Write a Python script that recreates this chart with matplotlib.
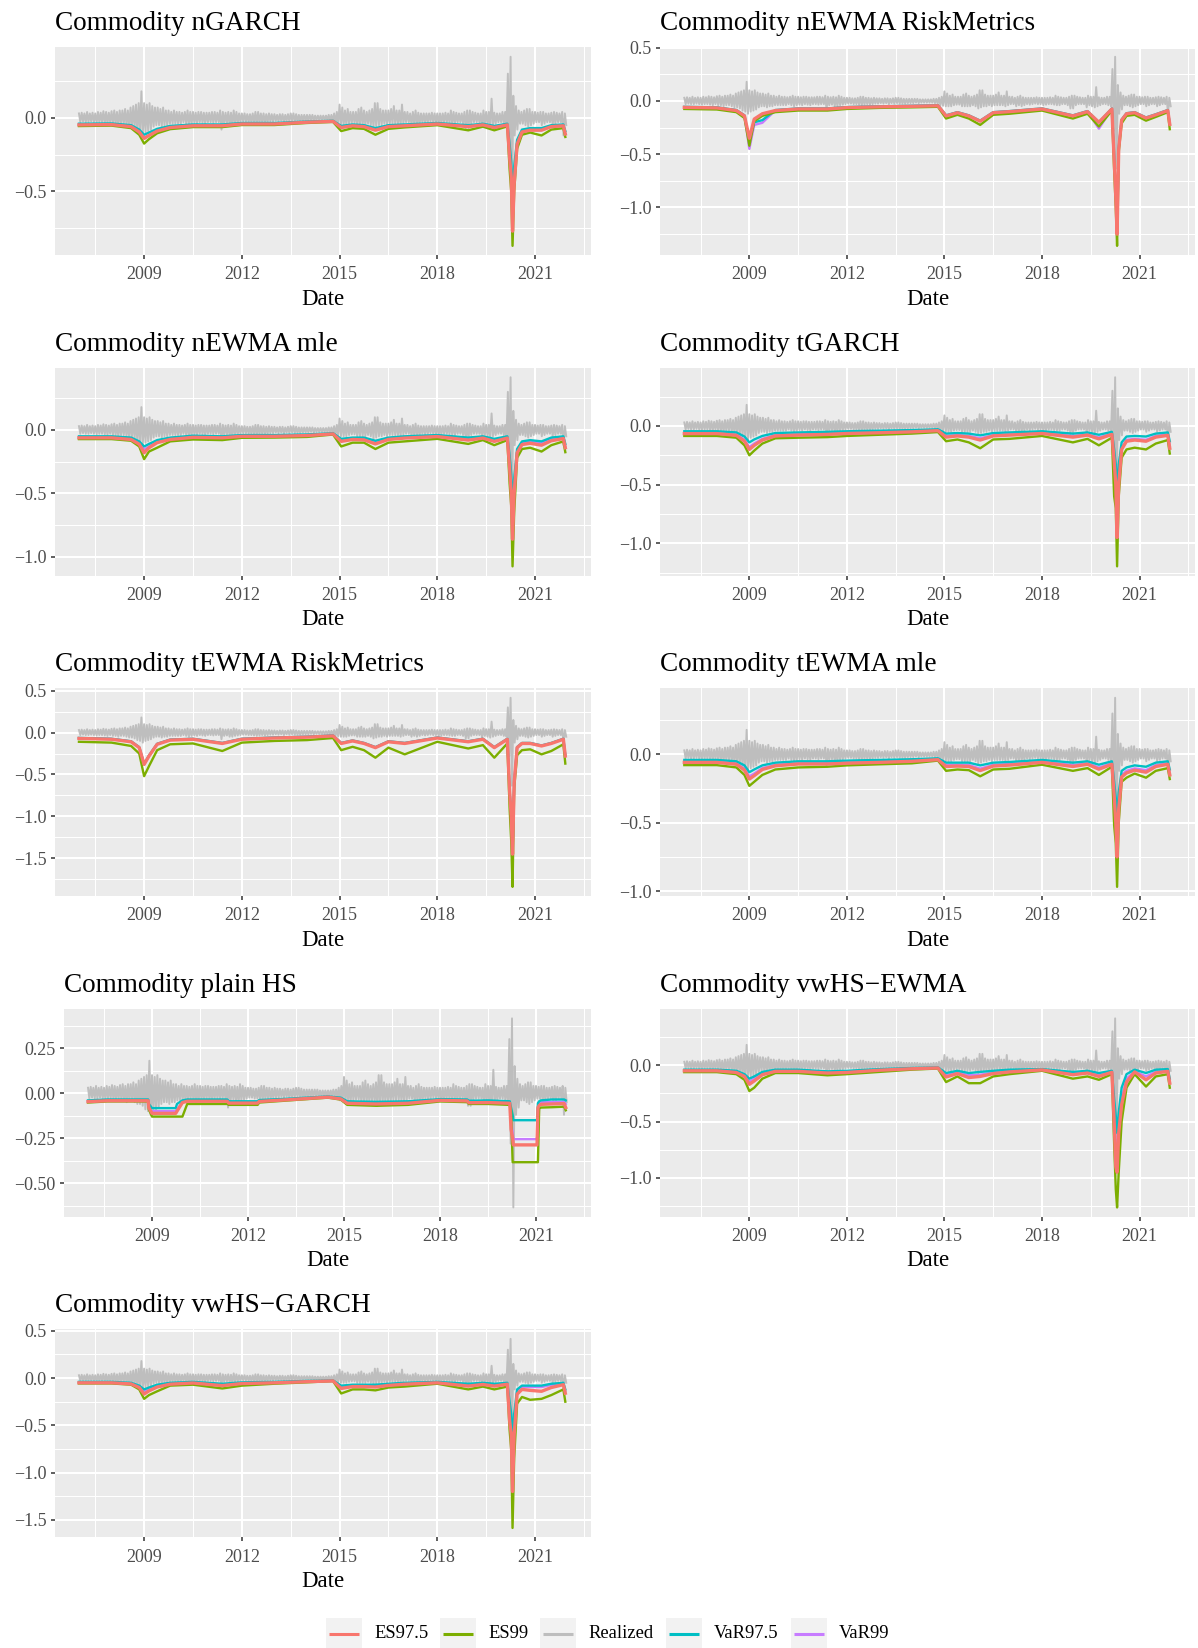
import numpy as np
import matplotlib
matplotlib.use("Agg")
import matplotlib.pyplot as plt
from matplotlib.ticker import MultipleLocator, FixedLocator, FuncFormatter
from matplotlib.patches import Rectangle

plt.rcParams['font.family'] = ['Liberation Serif', 'DejaVu Serif']

# realized commodity returns: monthly high and low, Jan 2007 .. Dec 2021
realized_hi = [
    0.030, 0.035, 0.030, 0.040, 0.030, 0.035, 0.030, 0.040, 0.035, 0.045, 0.040, 0.035,  # 2007
    0.045, 0.050, 0.040, 0.050, 0.050, 0.060, 0.050, 0.070, 0.080, 0.090, 0.100, 0.180,  # 2008
    0.100, 0.090, 0.100, 0.080, 0.070, 0.070, 0.060, 0.070, 0.050, 0.050, 0.040, 0.050,  # 2009
    0.040, 0.040, 0.035, 0.040, 0.050, 0.040, 0.040, 0.035, 0.040, 0.040, 0.035, 0.035,  # 2010
    0.035, 0.040, 0.040, 0.035, 0.050, 0.040, 0.035, 0.040, 0.035, 0.050, 0.040, 0.030,  # 2011
    0.030, 0.030, 0.025, 0.025, 0.030, 0.040, 0.040, 0.030, 0.030, 0.025, 0.030, 0.025,  # 2012
    0.025, 0.020, 0.025, 0.025, 0.020, 0.025, 0.030, 0.030, 0.025, 0.020, 0.020, 0.020,  # 2013
    0.020, 0.020, 0.020, 0.015, 0.015, 0.015, 0.015, 0.015, 0.020, 0.020, 0.030, 0.040,  # 2014
    0.090, 0.070, 0.050, 0.060, 0.040, 0.040, 0.040, 0.060, 0.070, 0.050, 0.040, 0.050,  # 2015
    0.060, 0.100, 0.100, 0.060, 0.050, 0.050, 0.050, 0.060, 0.080, 0.050, 0.050, 0.090,  # 2016
    0.040, 0.040, 0.030, 0.040, 0.050, 0.035, 0.030, 0.030, 0.030, 0.030, 0.035, 0.030,  # 2017
    0.030, 0.030, 0.030, 0.035, 0.030, 0.050, 0.040, 0.035, 0.030, 0.030, 0.040, 0.050,  # 2018
    0.050, 0.040, 0.035, 0.030, 0.030, 0.050, 0.040, 0.040, 0.130, 0.035, 0.030, 0.030,  # 2019
    0.040, 0.040, 0.300, 0.415, 0.150, 0.080, 0.050, 0.040, 0.050, 0.060, 0.060, 0.040,  # 2020
    0.040, 0.035, 0.040, 0.040, 0.030, 0.030, 0.035, 0.040, 0.035, 0.030, 0.040, 0.030,  # 2021
]
realized_lo = [
    -0.030, -0.025, -0.030, -0.030, -0.025, -0.030, -0.035, -0.030, -0.030, -0.035, -0.040, -0.030,  # 2007
    -0.040, -0.040, -0.050, -0.040, -0.040, -0.050, -0.060, -0.060, -0.070, -0.090, -0.100, -0.120,  # 2008
    -0.100, -0.090, -0.080, -0.060, -0.050, -0.050, -0.060, -0.050, -0.050, -0.040, -0.040, -0.040,  # 2009
    -0.040, -0.040, -0.030, -0.040, -0.050, -0.040, -0.035, -0.040, -0.030, -0.035, -0.040, -0.030,  # 2010
    -0.030, -0.035, -0.030, -0.030, -0.080, -0.040, -0.035, -0.050, -0.050, -0.040, -0.035, -0.030,  # 2011
    -0.025, -0.025, -0.030, -0.030, -0.035, -0.040, -0.035, -0.030, -0.035, -0.030, -0.025, -0.025,  # 2012
    -0.020, -0.025, -0.020, -0.030, -0.020, -0.025, -0.020, -0.025, -0.025, -0.025, -0.020, -0.020,  # 2013
    -0.020, -0.015, -0.020, -0.015, -0.015, -0.015, -0.015, -0.015, -0.020, -0.025, -0.040, -0.045,  # 2014
    -0.050, -0.050, -0.050, -0.040, -0.035, -0.035, -0.050, -0.050, -0.050, -0.050, -0.040, -0.050,  # 2015
    -0.070, -0.060, -0.050, -0.050, -0.040, -0.050, -0.040, -0.040, -0.040, -0.040, -0.050, -0.040,  # 2016
    -0.030, -0.030, -0.050, -0.040, -0.050, -0.040, -0.030, -0.035, -0.030, -0.025, -0.030, -0.030,  # 2017
    -0.040, -0.035, -0.030, -0.030, -0.035, -0.040, -0.040, -0.030, -0.030, -0.040, -0.070, -0.070,  # 2018
    -0.040, -0.030, -0.030, -0.030, -0.060, -0.040, -0.050, -0.060, -0.050, -0.040, -0.030, -0.030,  # 2019
    -0.040, -0.050, -0.280, -0.634, -0.120, -0.080, -0.040, -0.040, -0.050, -0.060, -0.050, -0.040,  # 2020
    -0.030, -0.030, -0.050, -0.040, -0.030, -0.030, -0.050, -0.040, -0.030, -0.030, -0.120, -0.050,  # 2021
]

# dates (decimal years) at which the model forecasts are tabulated
knots = [
    2007.0, 2008.0, 2008.6, 2008.85, 2009.0, 2009.15, 2009.4, 2009.8, 2010.5, 2011.4,
    2012.0, 2013.0, 2014.0, 2014.8, 2015.05, 2015.4, 2015.75, 2016.1, 2016.5, 2017.0,
    2018.0, 2018.95, 2019.4, 2019.75, 2020.15, 2020.22, 2020.27, 2020.31, 2020.36, 2020.45,
    2020.6, 2020.85, 2021.2, 2021.5, 2021.87, 2021.93,
]

# nGARCH
ngarch_var975 = [
    -0.040, -0.038, -0.050, -0.080, -0.115, -0.100, -0.075, -0.055, -0.045, -0.045,
    -0.035, -0.035, -0.025, -0.020, -0.055, -0.045, -0.050, -0.070, -0.050, -0.045,
    -0.035, -0.050, -0.040, -0.055, -0.040, -0.180, -0.300, -0.560, -0.330, -0.150,
    -0.080, -0.070, -0.070, -0.050, -0.045, -0.090]
ngarch_var99 = [
    -0.047, -0.045, -0.059, -0.095, -0.136, -0.118, -0.089, -0.065, -0.053, -0.053,
    -0.041, -0.041, -0.030, -0.024, -0.065, -0.053, -0.059, -0.083, -0.059, -0.053,
    -0.041, -0.059, -0.047, -0.065, -0.047, -0.212, -0.354, -0.660, -0.390, -0.177,
    -0.094, -0.083, -0.083, -0.059, -0.053, -0.106]
ngarch_es975 = [
    -0.048, -0.046, -0.060, -0.096, -0.140, -0.120, -0.090, -0.066, -0.054, -0.054,
    -0.042, -0.042, -0.030, -0.024, -0.066, -0.054, -0.060, -0.084, -0.060, -0.054,
    -0.042, -0.060, -0.048, -0.066, -0.048, -0.270, -0.400, -0.770, -0.450, -0.180,
    -0.096, -0.084, -0.084, -0.060, -0.054, -0.110]
ngarch_es99 = [
    -0.056, -0.053, -0.070, -0.115, -0.175, -0.145, -0.105, -0.077, -0.063, -0.063,
    -0.049, -0.049, -0.035, -0.028, -0.090, -0.070, -0.075, -0.115, -0.075, -0.065,
    -0.050, -0.085, -0.060, -0.085, -0.058, -0.350, -0.500, -0.870, -0.500, -0.210,
    -0.115, -0.100, -0.120, -0.080, -0.070, -0.130]

# nEWMA RiskMetrics
newma_rm_var975 = [
    -0.055, -0.060, -0.085, -0.135, -0.380, -0.200, -0.180, -0.085, -0.070, -0.070,
    -0.057, -0.050, -0.045, -0.040, -0.135, -0.105, -0.135, -0.185, -0.105, -0.095,
    -0.070, -0.135, -0.095, -0.200, -0.070, -0.500, -0.850, -1.200, -0.440, -0.175,
    -0.115, -0.105, -0.155, -0.125, -0.085, -0.215]
newma_rm_var99 = [
    -0.058, -0.063, -0.088, -0.138, -0.450, -0.225, -0.205, -0.088, -0.073, -0.073,
    -0.060, -0.053, -0.048, -0.043, -0.138, -0.108, -0.138, -0.188, -0.108, -0.098,
    -0.073, -0.138, -0.098, -0.260, -0.073, -0.540, -0.890, -1.240, -0.445, -0.178,
    -0.118, -0.108, -0.158, -0.128, -0.088, -0.218]
newma_rm_es975 = [
    -0.060, -0.065, -0.090, -0.140, -0.350, -0.170, -0.120, -0.090, -0.075, -0.075,
    -0.062, -0.055, -0.050, -0.045, -0.140, -0.110, -0.140, -0.190, -0.110, -0.100,
    -0.075, -0.140, -0.100, -0.200, -0.075, -0.550, -0.900, -1.250, -0.450, -0.180,
    -0.120, -0.110, -0.160, -0.130, -0.090, -0.220]
newma_rm_es99 = [
    -0.075, -0.080, -0.105, -0.160, -0.420, -0.190, -0.140, -0.105, -0.090, -0.090,
    -0.075, -0.065, -0.060, -0.055, -0.165, -0.130, -0.165, -0.225, -0.130, -0.120,
    -0.090, -0.165, -0.120, -0.240, -0.090, -0.650, -1.000, -1.360, -0.480, -0.210,
    -0.140, -0.130, -0.185, -0.150, -0.105, -0.265]

# nEWMA mle
newma_mle_var975 = [
    -0.050, -0.050, -0.060, -0.090, -0.130, -0.110, -0.080, -0.060, -0.045, -0.050,
    -0.040, -0.040, -0.035, -0.025, -0.070, -0.060, -0.060, -0.085, -0.060, -0.050,
    -0.040, -0.060, -0.050, -0.070, -0.050, -0.200, -0.350, -0.600, -0.380, -0.150,
    -0.090, -0.080, -0.090, -0.060, -0.050, -0.110]
newma_mle_var99 = [
    -0.059, -0.059, -0.071, -0.106, -0.153, -0.130, -0.094, -0.071, -0.053, -0.059,
    -0.047, -0.047, -0.041, -0.030, -0.083, -0.071, -0.071, -0.100, -0.071, -0.059,
    -0.047, -0.071, -0.059, -0.083, -0.059, -0.236, -0.410, -0.710, -0.450, -0.177,
    -0.106, -0.094, -0.106, -0.071, -0.059, -0.130]
newma_mle_es975 = [
    -0.062, -0.062, -0.075, -0.112, -0.180, -0.140, -0.100, -0.075, -0.058, -0.062,
    -0.050, -0.050, -0.044, -0.031, -0.090, -0.075, -0.078, -0.110, -0.075, -0.064,
    -0.052, -0.080, -0.064, -0.090, -0.064, -0.300, -0.500, -0.860, -0.500, -0.180,
    -0.115, -0.105, -0.120, -0.085, -0.068, -0.140]
newma_mle_es99 = [
    -0.072, -0.072, -0.085, -0.130, -0.230, -0.170, -0.140, -0.090, -0.075, -0.080,
    -0.062, -0.060, -0.055, -0.036, -0.130, -0.100, -0.100, -0.150, -0.100, -0.090,
    -0.070, -0.110, -0.080, -0.120, -0.080, -0.420, -0.600, -1.074, -0.650, -0.220,
    -0.150, -0.140, -0.170, -0.120, -0.090, -0.175]

# tGARCH
tgarch_var975 = [
    -0.045, -0.045, -0.055, -0.090, -0.140, -0.115, -0.085, -0.060, -0.055, -0.050,
    -0.045, -0.040, -0.035, -0.028, -0.065, -0.060, -0.065, -0.080, -0.060, -0.055,
    -0.045, -0.065, -0.055, -0.075, -0.050, -0.200, -0.330, -0.550, -0.330, -0.140,
    -0.090, -0.085, -0.090, -0.065, -0.055, -0.130]
tgarch_var99 = [
    -0.060, -0.060, -0.073, -0.118, -0.180, -0.150, -0.110, -0.078, -0.072, -0.066,
    -0.059, -0.053, -0.046, -0.037, -0.085, -0.078, -0.085, -0.105, -0.078, -0.072,
    -0.059, -0.085, -0.072, -0.098, -0.066, -0.270, -0.450, -0.760, -0.440, -0.185,
    -0.118, -0.110, -0.118, -0.085, -0.072, -0.170]
tgarch_es975 = [
    -0.065, -0.065, -0.080, -0.130, -0.200, -0.165, -0.120, -0.085, -0.078, -0.072,
    -0.064, -0.058, -0.050, -0.040, -0.095, -0.085, -0.095, -0.120, -0.085, -0.078,
    -0.064, -0.095, -0.078, -0.110, -0.072, -0.300, -0.500, -0.950, -0.500, -0.200,
    -0.130, -0.120, -0.130, -0.095, -0.080, -0.190]
tgarch_es99 = [
    -0.085, -0.085, -0.100, -0.165, -0.250, -0.210, -0.150, -0.105, -0.100, -0.095,
    -0.085, -0.075, -0.065, -0.052, -0.130, -0.115, -0.140, -0.190, -0.115, -0.110,
    -0.085, -0.140, -0.110, -0.165, -0.100, -0.600, -0.700, -1.196, -0.600, -0.270,
    -0.200, -0.185, -0.200, -0.150, -0.120, -0.235]

# tEWMA RiskMetrics
tewma_rm_var975 = [
    -0.064, -0.074, -0.104, -0.174, -0.374, -0.274, -0.134, -0.084, -0.074, -0.124,
    -0.074, -0.059, -0.049, -0.034, -0.124, -0.094, -0.124, -0.174, -0.104, -0.124,
    -0.059, -0.104, -0.074, -0.174, -0.074, -0.690, -0.990, -1.440, -0.590, -0.174,
    -0.124, -0.124, -0.154, -0.124, -0.074, -0.274]
tewma_rm_var99 = [
    -0.067, -0.077, -0.107, -0.177, -0.377, -0.277, -0.137, -0.087, -0.077, -0.127,
    -0.077, -0.062, -0.052, -0.037, -0.127, -0.097, -0.127, -0.177, -0.107, -0.127,
    -0.062, -0.107, -0.077, -0.177, -0.077, -0.695, -0.995, -1.445, -0.595, -0.177,
    -0.127, -0.127, -0.157, -0.127, -0.077, -0.277]
tewma_rm_es975 = [
    -0.070, -0.080, -0.110, -0.180, -0.380, -0.280, -0.140, -0.090, -0.080, -0.130,
    -0.080, -0.065, -0.055, -0.040, -0.130, -0.100, -0.130, -0.180, -0.110, -0.130,
    -0.065, -0.110, -0.080, -0.180, -0.080, -0.700, -1.000, -1.450, -0.600, -0.180,
    -0.130, -0.130, -0.160, -0.130, -0.080, -0.280]
tewma_rm_es99 = [
    -0.110, -0.120, -0.160, -0.250, -0.520, -0.400, -0.210, -0.140, -0.130, -0.220,
    -0.120, -0.100, -0.090, -0.065, -0.210, -0.170, -0.210, -0.300, -0.180, -0.260,
    -0.110, -0.190, -0.150, -0.300, -0.130, -0.900, -1.300, -1.840, -0.660, -0.270,
    -0.210, -0.200, -0.260, -0.220, -0.140, -0.370]

# tEWMA mle
tewma_mle_var975 = [
    -0.040, -0.040, -0.050, -0.080, -0.130, -0.110, -0.080, -0.060, -0.050, -0.050,
    -0.045, -0.040, -0.035, -0.028, -0.060, -0.060, -0.060, -0.080, -0.060, -0.055,
    -0.040, -0.060, -0.050, -0.075, -0.050, -0.200, -0.320, -0.480, -0.280, -0.120,
    -0.095, -0.080, -0.090, -0.060, -0.050, -0.110]
tewma_mle_var99 = [
    -0.052, -0.052, -0.065, -0.104, -0.160, -0.140, -0.100, -0.076, -0.064, -0.064,
    -0.058, -0.052, -0.045, -0.035, -0.078, -0.076, -0.078, -0.104, -0.076, -0.070,
    -0.052, -0.078, -0.064, -0.096, -0.064, -0.260, -0.420, -0.620, -0.360, -0.150,
    -0.120, -0.102, -0.115, -0.078, -0.064, -0.140]
tewma_mle_es975 = [
    -0.058, -0.058, -0.072, -0.115, -0.180, -0.155, -0.110, -0.083, -0.070, -0.070,
    -0.064, -0.058, -0.050, -0.038, -0.088, -0.085, -0.088, -0.118, -0.085, -0.078,
    -0.058, -0.088, -0.072, -0.108, -0.072, -0.300, -0.500, -0.750, -0.400, -0.165,
    -0.135, -0.115, -0.130, -0.088, -0.072, -0.150]
tewma_mle_es99 = [
    -0.078, -0.078, -0.095, -0.150, -0.230, -0.200, -0.150, -0.110, -0.095, -0.090,
    -0.080, -0.072, -0.065, -0.045, -0.120, -0.110, -0.115, -0.160, -0.110, -0.105,
    -0.075, -0.120, -0.100, -0.150, -0.090, -0.520, -0.650, -0.969, -0.500, -0.200,
    -0.170, -0.140, -0.170, -0.120, -0.100, -0.180]

# plain HS moves in steps, so it has its own dates
hs_dates = [
    2007.0, 2007.6, 2008.0, 2008.88, 2008.9, 2009.0, 2009.74, 2009.78, 2009.95, 2010.1,
    2011.35, 2011.4, 2012.3, 2012.35, 2013.3, 2014.5, 2014.9, 2015.1, 2016.0, 2017.0,
    2018.0, 2018.85, 2018.9, 2019.5, 2020.18, 2020.22, 2020.27, 2020.29, 2021.03, 2021.06,
    2021.1, 2021.15, 2021.5, 2021.88, 2021.93]
hs_var975 = [
    -0.040, -0.035, -0.035, -0.035, -0.060, -0.083, -0.083, -0.060, -0.040, -0.035,
    -0.035, -0.045, -0.045, -0.038, -0.030, -0.018, -0.025, -0.045, -0.048, -0.045,
    -0.033, -0.035, -0.042, -0.040, -0.045, -0.080, -0.120, -0.150, -0.150, -0.055,
    -0.045, -0.040, -0.035, -0.035, -0.040]
hs_var99 = [
    -0.045, -0.040, -0.040, -0.040, -0.075, -0.100, -0.100, -0.090, -0.050, -0.042,
    -0.042, -0.052, -0.052, -0.044, -0.034, -0.021, -0.030, -0.052, -0.056, -0.052,
    -0.038, -0.040, -0.050, -0.048, -0.053, -0.150, -0.220, -0.255, -0.255, -0.220,
    -0.060, -0.050, -0.050, -0.048, -0.060]
hs_es975 = [
    -0.047, -0.042, -0.042, -0.042, -0.080, -0.112, -0.112, -0.100, -0.052, -0.045,
    -0.045, -0.055, -0.055, -0.046, -0.036, -0.022, -0.032, -0.056, -0.060, -0.056,
    -0.040, -0.043, -0.053, -0.052, -0.056, -0.200, -0.250, -0.287, -0.287, -0.080,
    -0.068, -0.062, -0.060, -0.058, -0.080]
hs_es99 = [
    -0.052, -0.046, -0.046, -0.046, -0.090, -0.130, -0.130, -0.130, -0.130, -0.060,
    -0.060, -0.065, -0.065, -0.052, -0.040, -0.025, -0.036, -0.065, -0.070, -0.065,
    -0.046, -0.050, -0.060, -0.060, -0.065, -0.100, -0.383, -0.383, -0.383, -0.383,
    -0.085, -0.080, -0.078, -0.075, -0.095]

# vwHS-EWMA
vwhs_ewma_var975 = [
    -0.040, -0.040, -0.050, -0.080, -0.120, -0.100, -0.060, -0.040, -0.040, -0.055,
    -0.050, -0.035, -0.025, -0.020, -0.070, -0.050, -0.070, -0.060, -0.050, -0.040,
    -0.035, -0.060, -0.050, -0.070, -0.050, -0.300, -0.450, -0.600, -0.420, -0.200,
    -0.080, -0.040, -0.070, -0.040, -0.035, -0.120]
vwhs_ewma_var99 = [
    -0.045, -0.045, -0.058, -0.092, -0.145, -0.120, -0.075, -0.050, -0.048, -0.065,
    -0.058, -0.042, -0.030, -0.024, -0.090, -0.065, -0.090, -0.085, -0.065, -0.052,
    -0.040, -0.075, -0.062, -0.090, -0.058, -0.400, -0.700, -0.800, -0.550, -0.300,
    -0.120, -0.055, -0.100, -0.060, -0.050, -0.150]
vwhs_ewma_es975 = [
    -0.050, -0.050, -0.065, -0.100, -0.170, -0.140, -0.085, -0.055, -0.055, -0.070,
    -0.065, -0.045, -0.032, -0.025, -0.105, -0.075, -0.110, -0.100, -0.075, -0.060,
    -0.042, -0.085, -0.070, -0.100, -0.063, -0.500, -0.900, -0.950, -0.600, -0.350,
    -0.150, -0.060, -0.130, -0.070, -0.055, -0.160]
vwhs_ewma_es99 = [
    -0.062, -0.062, -0.080, -0.130, -0.230, -0.200, -0.120, -0.070, -0.070, -0.090,
    -0.080, -0.060, -0.040, -0.030, -0.150, -0.100, -0.160, -0.160, -0.100, -0.080,
    -0.050, -0.120, -0.100, -0.130, -0.080, -0.700, -1.100, -1.262, -0.950, -0.500,
    -0.200, -0.080, -0.190, -0.100, -0.080, -0.200]

# vwHS-GARCH
vwhs_garch_var975 = [
    -0.040, -0.040, -0.050, -0.080, -0.120, -0.100, -0.070, -0.050, -0.040, -0.060,
    -0.045, -0.040, -0.030, -0.025, -0.080, -0.070, -0.070, -0.070, -0.060, -0.050,
    -0.040, -0.060, -0.050, -0.060, -0.050, -0.250, -0.380, -0.650, -0.380, -0.120,
    -0.080, -0.080, -0.080, -0.060, -0.050, -0.120]
vwhs_garch_var99 = [
    -0.046, -0.046, -0.058, -0.095, -0.145, -0.120, -0.085, -0.060, -0.048, -0.072,
    -0.054, -0.048, -0.036, -0.030, -0.100, -0.085, -0.085, -0.085, -0.072, -0.060,
    -0.048, -0.075, -0.060, -0.075, -0.060, -0.350, -0.500, -0.900, -0.500, -0.140,
    -0.095, -0.095, -0.095, -0.072, -0.060, -0.140]
vwhs_garch_es975 = [
    -0.050, -0.050, -0.062, -0.100, -0.170, -0.135, -0.095, -0.065, -0.052, -0.080,
    -0.058, -0.050, -0.038, -0.030, -0.110, -0.090, -0.090, -0.095, -0.078, -0.065,
    -0.050, -0.085, -0.068, -0.085, -0.065, -0.450, -0.600, -1.200, -0.600, -0.170,
    -0.120, -0.130, -0.140, -0.100, -0.070, -0.160]
vwhs_garch_es99 = [
    -0.057, -0.057, -0.070, -0.120, -0.220, -0.180, -0.140, -0.080, -0.070, -0.110,
    -0.080, -0.060, -0.045, -0.032, -0.163, -0.120, -0.120, -0.130, -0.100, -0.090,
    -0.060, -0.120, -0.090, -0.120, -0.090, -0.550, -0.760, -1.586, -0.850, -0.270,
    -0.200, -0.230, -0.220, -0.180, -0.120, -0.250]

titles = [
    "Commodity nGARCH", "Commodity nEWMA RiskMetrics",
    "Commodity nEWMA mle", "Commodity tGARCH",
    "Commodity tEWMA RiskMetrics", "Commodity tEWMA mle",
    "Commodity plain HS", "Commodity vwHS\u2212EWMA",
    "Commodity vwHS\u2212GARCH",
]
series = [
    (knots, ngarch_var975, ngarch_var99, ngarch_es975, ngarch_es99),
    (knots, newma_rm_var975, newma_rm_var99, newma_rm_es975, newma_rm_es99),
    (knots, newma_mle_var975, newma_mle_var99, newma_mle_es975, newma_mle_es99),
    (knots, tgarch_var975, tgarch_var99, tgarch_es975, tgarch_es99),
    (knots, tewma_rm_var975, tewma_rm_var99, tewma_rm_es975, tewma_rm_es99),
    (knots, tewma_mle_var975, tewma_mle_var99, tewma_mle_es975, tewma_mle_es99),
    (hs_dates, hs_var975, hs_var99, hs_es975, hs_es99),
    (knots, vwhs_ewma_var975, vwhs_ewma_var99, vwhs_ewma_es975, vwhs_ewma_es99),
    (knots, vwhs_garch_var975, vwhs_garch_var99, vwhs_garch_es975, vwhs_garch_es99),
]

legend_names = ["ES97.5", "ES99", "Realized", "VaR97.5", "VaR99"]
colors = {"ES97.5": "#F8766D", "ES99": "#7CAE00", "Realized": "#BEBEBE",
          "VaR97.5": "#00BFC4", "VaR99": "#C77CFF"}

# figure geometry in pixels
W, H = 1198, 1648
fig = plt.figure(figsize=(W / 100, H / 100), dpi=100)
fig.patch.set_facecolor("white")


def px_rect(left, top, right, bottom):
    return [left / W, 1 - bottom / H, (right - left) / W, (bottom - top) / H]


row_tops = [47.3, 367.8, 688.3, 1008.9, 1329.4]
panel_h = 208
# (left, right, y step, label format) for each panel
boxes = [
    (54.6, 590.6, 0.5, "%.1f"), (660.0, 1195.0, 0.5, "%.1f"),
    (54.6, 590.6, 0.5, "%.1f"), (660.0, 1195.0, 0.5, "%.1f"),
    (54.6, 590.6, 0.5, "%.1f"), (660.0, 1195.0, 0.5, "%.1f"),
    (64.1, 590.6, 0.25, "%.2f"), (660.0, 1195.0, 0.5, "%.1f"),
    (54.6, 590.6, 0.5, "%.1f"),
]

# realized line: each month's high then low
months = 2007 + np.arange(len(realized_hi)) / 12.0
real_x = np.column_stack([months, months + 1 / 24]).ravel()
real_y = np.column_stack([realized_hi, realized_lo]).ravel()


def make_fmt(fmt):
    def f(v, pos):
        if abs(v) < 1e-9:
            v = 0.0
        return (fmt % v).replace("-", "\u2212")
    return FuncFormatter(f)


for i, (title, data, box) in enumerate(zip(titles, series, boxes)):
    dates, v975, v99, e975, e99 = data
    left, right, step, fmt = box
    top = row_tops[i // 2]
    bottom = top + panel_h
    ax = fig.add_axes(px_rect(left, top, right, bottom))
    ax.set_facecolor("#EBEBEB")

    ax.plot(real_x, real_y, color=colors["Realized"], lw=1.4, zorder=2)
    ax.plot(dates, v99, color=colors["VaR99"], lw=1.7, zorder=3)
    ax.plot(dates, v975, color=colors["VaR97.5"], lw=1.7, zorder=4)
    ax.plot(dates, e99, color=colors["ES99"], lw=1.7, zorder=5)
    ax.plot(dates, e975, color=colors["ES97.5"], lw=2.4, zorder=6)

    # ggplot style 5% padding around the data range
    all_y = np.concatenate([v975, v99, e975, e99, real_y])
    ymin, ymax = all_y.min(), all_y.max()
    pad = 0.05 * (ymax - ymin)
    ax.set_ylim(ymin - pad, ymax + pad)
    all_x = np.concatenate([dates, real_x])
    xmin, xmax = all_x.min(), all_x.max()
    pad = 0.05 * (xmax - xmin)
    ax.set_xlim(xmin - pad, xmax + pad)

    ax.xaxis.set_major_locator(FixedLocator([2009, 2012, 2015, 2018, 2021]))
    ax.xaxis.set_minor_locator(FixedLocator([2007.5, 2010.5, 2013.5, 2016.5, 2019.5, 2022.5]))
    ax.xaxis.set_major_formatter(FuncFormatter(lambda v, p: "%d" % round(v)))
    ax.yaxis.set_major_locator(MultipleLocator(step))
    ax.yaxis.set_minor_locator(MultipleLocator(step / 2))
    ax.yaxis.set_major_formatter(make_fmt(fmt))

    ax.grid(which="major", color="white", lw=1.5)
    ax.grid(which="minor", color="white", lw=0.75)
    ax.set_axisbelow(True)
    for s in ax.spines.values():
        s.set_visible(False)
    ax.tick_params(which="major", length=3, width=1.1, color="#333333",
                   labelcolor="#4D4D4D", labelsize=13)
    ax.tick_params(axis="x", which="major", pad=5)
    ax.tick_params(axis="y", which="major", pad=3)
    ax.tick_params(which="minor", length=0)

    fig.text(left / W, 1 - (top - 17) / H, title, fontsize=19.6,
             ha="left", va="baseline", color="black")
    fig.text((left + right) / 2 / W, 1 - (bottom + 44) / H, "Date",
             fontsize=16.4, ha="center", va="center", color="black")

# legend along the bottom
lax = fig.add_axes([0, 0, 1, 1])
lax.set_xlim(0, W)
lax.set_ylim(H, 0)
lax.axis("off")
key_lefts = [326, 440, 540, 666, 791]
key_w, key_h, key_cy = 36, 32, 1634
for name, kx in zip(legend_names, key_lefts):
    lax.add_patch(Rectangle((kx, key_cy - key_h / 2), key_w, key_h,
                            facecolor="#F2F2F2", edgecolor="none"))
    lax.plot([kx + 3, kx + key_w - 3], [key_cy, key_cy], color=colors[name],
             lw=2.2, solid_capstyle="butt")
    lax.text(kx + key_w + 12, key_cy, name, fontsize=13.4, ha="left",
             va="center", color="black")

fig.savefig("out.png", dpi=100)
